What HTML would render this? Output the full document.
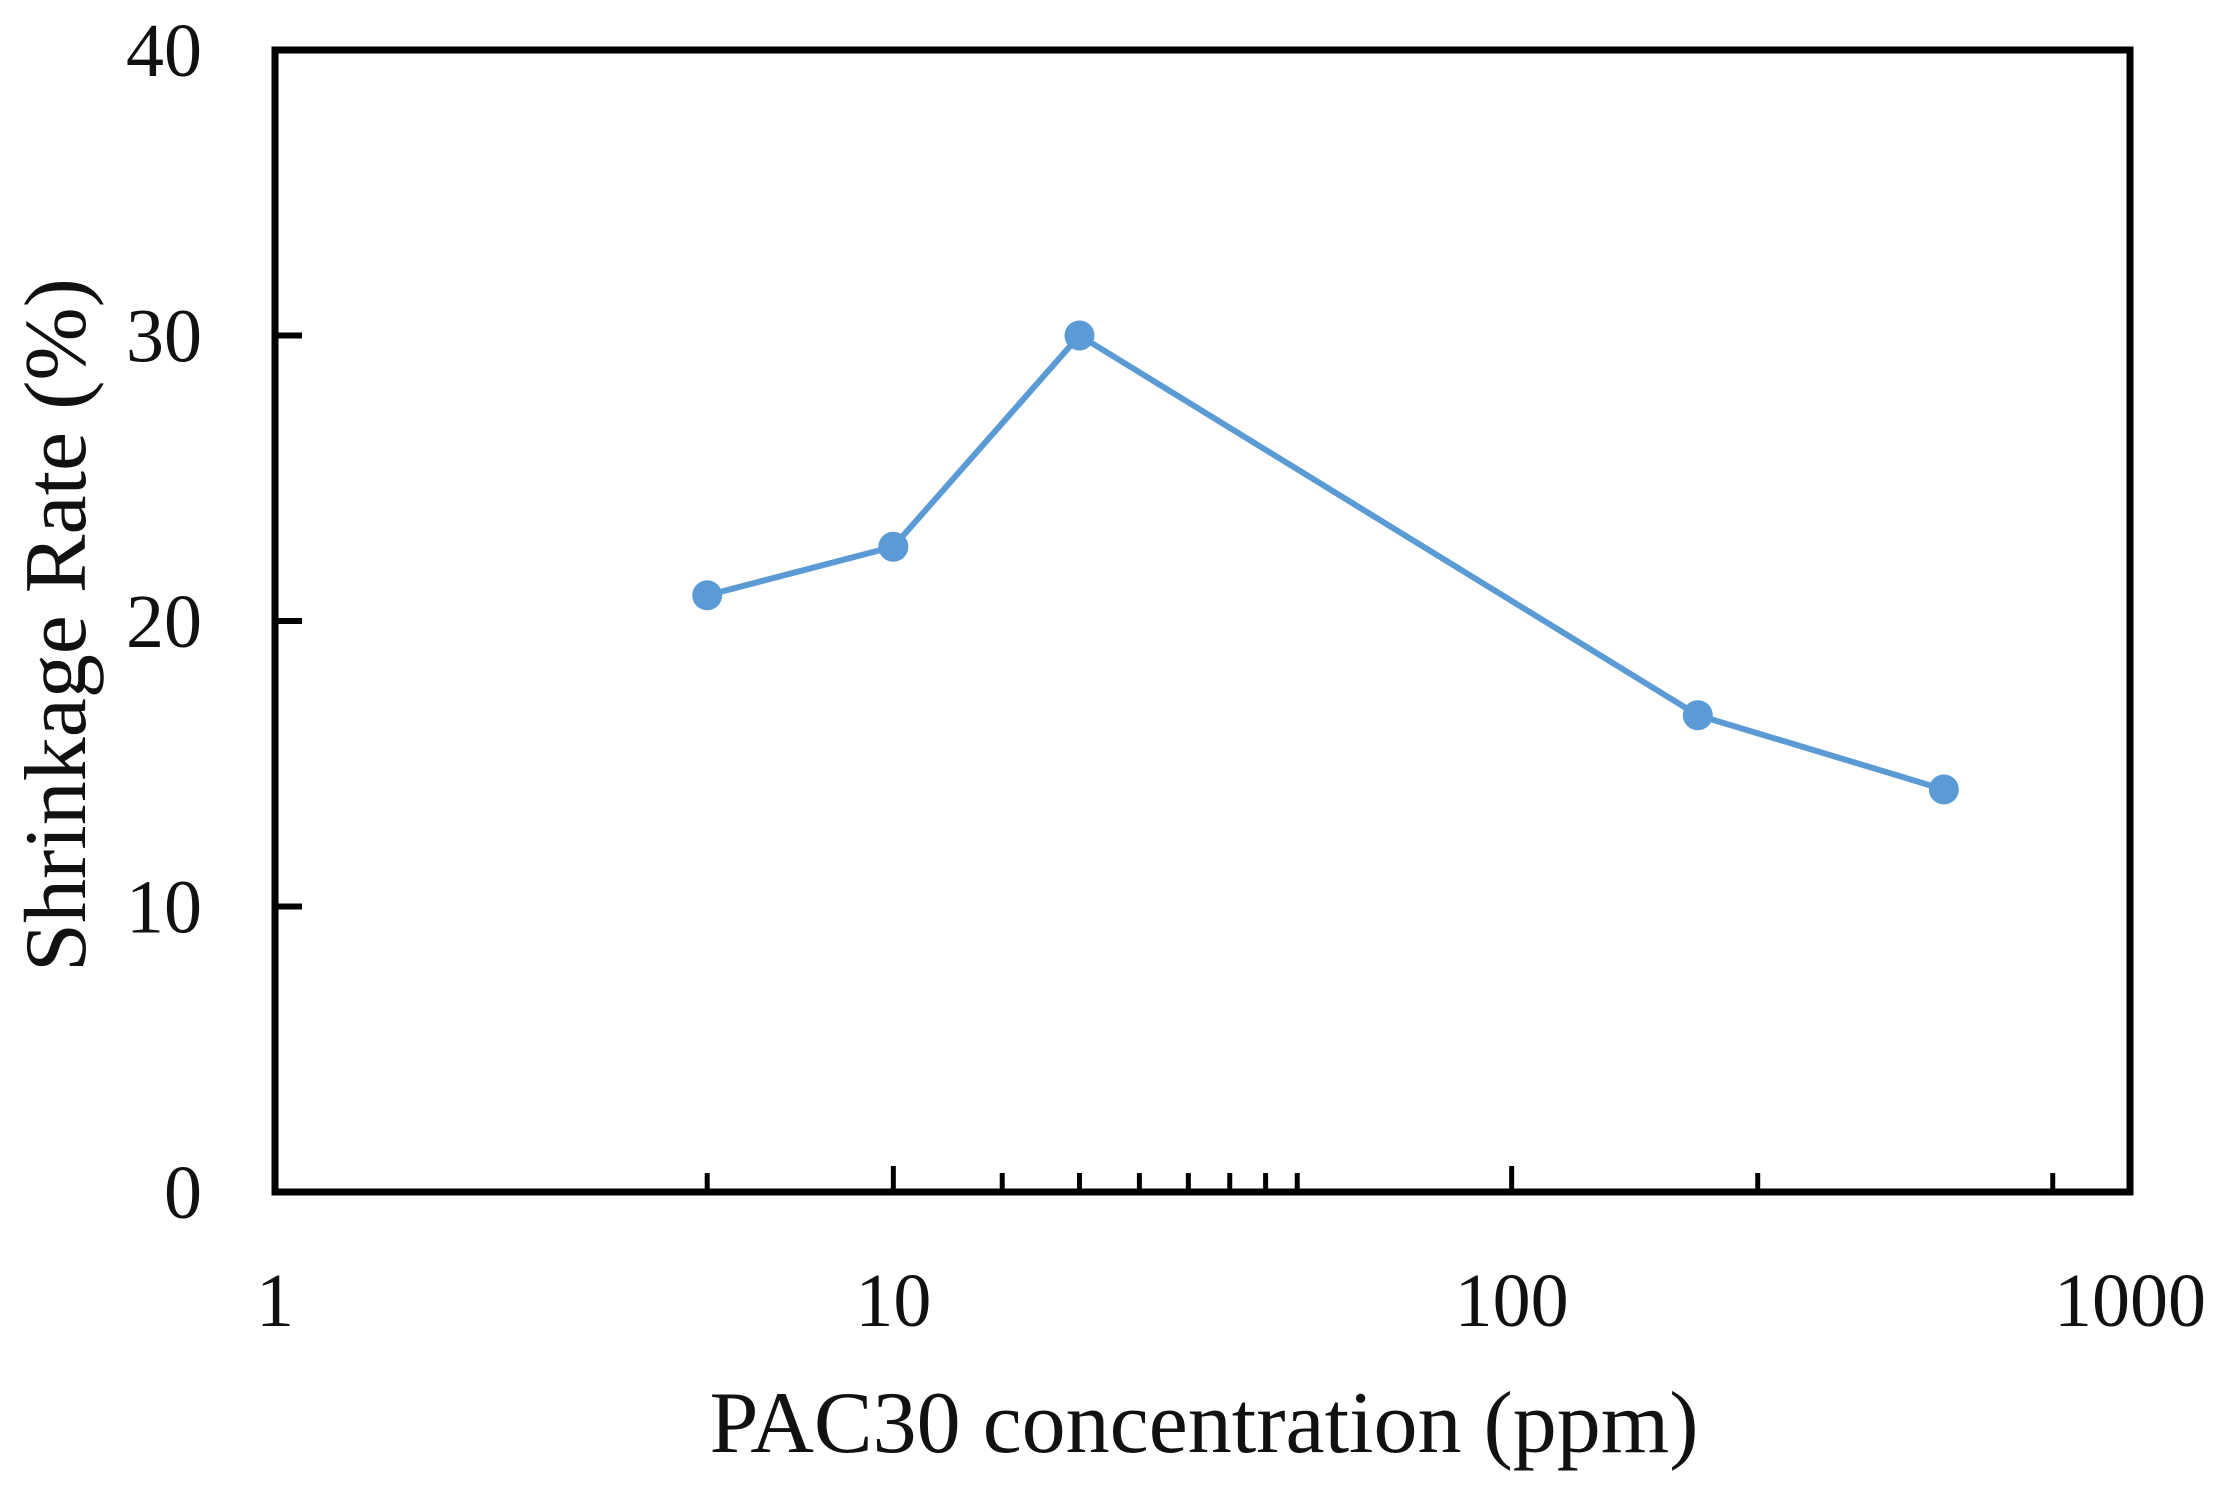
<!DOCTYPE html>
<html><head><meta charset="utf-8"><style>
html,body{margin:0;padding:0;background:#fff;}
svg{display:block;}
text{font-family:"Liberation Serif",serif;fill:#111;}
</style></head><body>
<svg id="chart" width="2226" height="1499" viewBox="0 0 2226 1499" xmlns="http://www.w3.org/2000/svg">
</svg>
<script>
const xValues = [5, 10, 20, 200, 500];
const yValues = [20.9, 22.6, 30.0, 16.7, 14.1];
const yTicks = [0, 10, 20, 30, 40];
const xMajorTicks = [1, 10, 100, 1000];
const xMajorLabels = ["1", "10", "100", "1000"];
const xMinorTicks = [5, 15, 20, 25, 30, 35, 40, 45, 250, 750];

const L = 275, R = 2130, T = 50, B = 1192;
const NS = "http://www.w3.org/2000/svg";
const svg = document.getElementById('chart');
function xs(v){ return L + Math.log10(v) / 3 * (R - L); }
function ys(v){ return B - v / 40 * (B - T); }
function mk(tag, attrs, parent){
  const e = document.createElementNS(NS, tag);
  for (const k in attrs) e.setAttribute(k, attrs[k]);
  (parent || svg).appendChild(e);
  return e;
}
const frame = mk('rect', {x:L, y:T, width:R-L, height:B-T, fill:'none', stroke:'#000', 'stroke-width':7});


yTicks.forEach(v => {
  const y = ys(v);
  if (v > 0 && v < 40) {
    const t = mk('line', {x1:L, x2:L+27, y1:y, y2:y, stroke:'#000', 'stroke-width':6});
    
    
  }
  const lb = mk('text', {x:202, y:y+26, 'text-anchor':'end', 'font-size':76});
  lb.textContent = v;
  
  
});
xMajorTicks.forEach((v, i) => {
  const x = xs(v);
  if (v > 1 && v < 1000) {
    const t = mk('line', {x1:x, x2:x, y1:B, y2:B-26, stroke:'#000', 'stroke-width':5});
    
    
  }
  const lb = mk('text', {x:x, y:1326, 'text-anchor':'middle', 'font-size':76});
  lb.textContent = xMajorLabels[i];
  
  
});
xMinorTicks.forEach(v => {
  const x = xs(v);
  const t = mk('line', {x1:x, x2:x, y1:B, y2:B-19, stroke:'#000', 'stroke-width':5});
  
  
});
const pts = xValues.map((v, i) => xs(v) + ',' + ys(yValues[i])).join(' ');
const line = mk('polyline', {points:pts, fill:'none', stroke:'#5B9BD5', 'stroke-width':6, 'stroke-linejoin':'round'});


xValues.forEach((v, i) => {
  const c = mk('circle', {cx:xs(v), cy:ys(yValues[i]), r:15, fill:'#5B9BD5'});
  
  
});
const xt = mk('text', {x:1204, y:1452, 'text-anchor':'middle', 'font-size':88});
xt.textContent = 'PAC30  concentration  (ppm)';


const yt = mk('text', {x:0, y:0, 'text-anchor':'middle', 'font-size':88, transform:'translate(85,625) rotate(-90)'});
yt.textContent = 'Shrinkage  Rate  (%)';


</script>
</body></html>
